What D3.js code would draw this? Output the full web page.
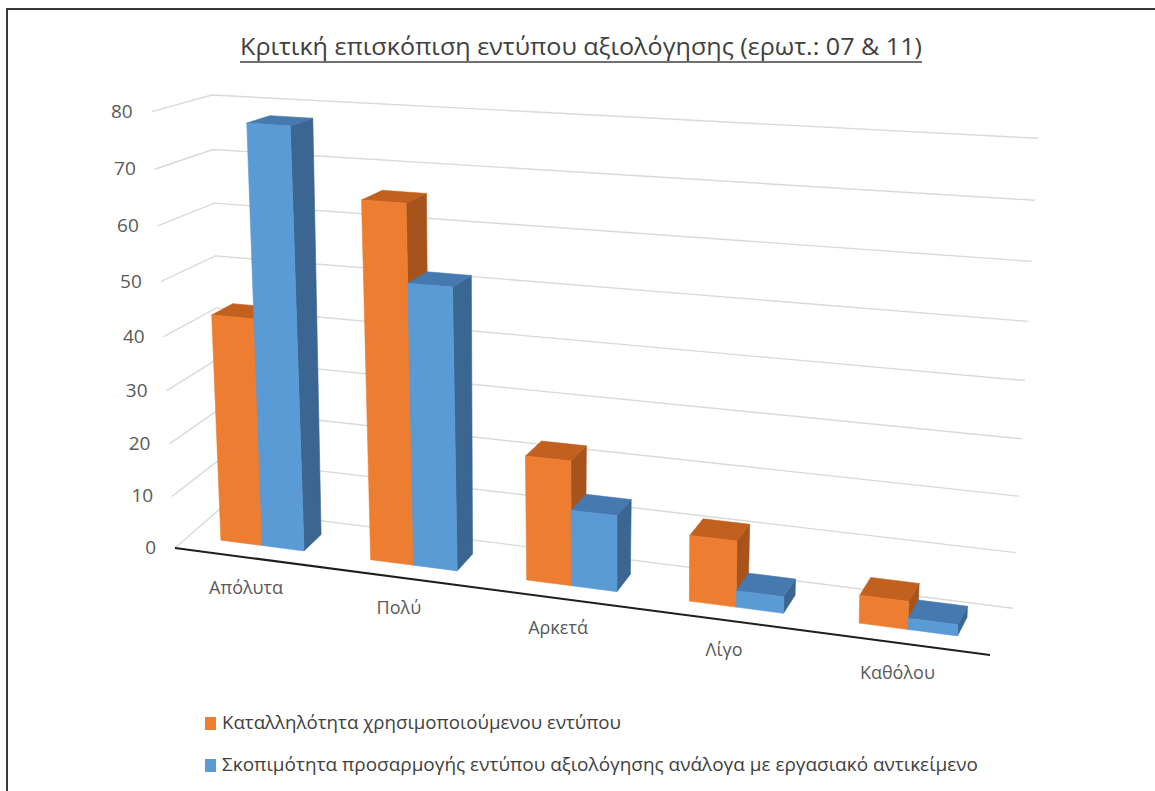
<!DOCTYPE html>
<html lang="el">
<head>
<meta charset="utf-8">
<script src="https://cdn.jsdelivr.net/npm/d3@7"></script>
<style>
  html, body { margin: 0; padding: 0; background: #fff; }
  svg { display: block; }
</style>
</head>
<body>
<svg id="chart" width="1155" height="791"></svg>
<script>
// ---- data ----
const categories = ["Απόλυτα", "Πολύ", "Αρκετά", "Λίγο", "Καθόλου"];
const seriesNames = [
  "Καταλληλότητα χρησιμοποιούμενου εντύπου",
  "Σκοπιμότητα προσαρμογής εντύπου αξιολόγησης ανάλογα με εργασιακό αντικείμενο"
];
const suitability = [43, 66, 23, 12, 5];
const adaptation = [78, 52, 14, 3, 2];
const yTicks = [0, 10, 20, 30, 40, 50, 60, 70, 80];
const titleText = "Κριτική επισκόπιση εντύπου αξιολόγησης (ερωτ.: 07 & 11)";

// ---- layout: screen corners of the plot box (X across, Y up, Z into the page) ----
const boxCorners = {
  "000": [175, 548],   "010": [151.7, 111.7],
  "001": [221, 508],   "011": [211.7, 95],
  "100": [990, 655],   "110": [1001.6, 170],
  "101": [1012.7, 608.3], "111": [1038.3, 138.3]
};
// foreshortening along the category and value directions
const depthX = 0.9, depthY = 0.94;
const barDepth = [0.3, 0.7];

const colors = {
  orange: { front: "#ED7D31", top: "#C2601F", side: "#A7531B" },
  blue:   { front: "#5B9BD5", top: "#4679AF", side: "#3B6692" }
};
const fontFamily = "'Open Sans', 'Noto Sans', 'DejaVu Sans', sans-serif";

// ---- projection of a point of the unit box onto the page ----
const warp = (t, k) => t * k / (1 + (k - 1) * t);
function project([X, Y, Z]) {
  const u = warp(X, depthX), v = warp(Y, depthY), w = Z;
  let px = 0, py = 0;
  for (const key in boxCorners) {
    const [a, b, c] = key.split("").map(Number);
    const wt = (a ? u : 1 - u) * (b ? v : 1 - v) * (c ? w : 1 - w);
    px += wt * boxCorners[key][0];
    py += wt * boxCorners[key][1];
  }
  return [px, py];
}

// ---- scales ----
const x = d3.scaleBand().domain(categories).range([0, 1]).paddingInner(0.44).paddingOuter(0.22);
const xs = d3.scaleBand().domain([0, 1]).range([0, x.bandwidth()]);
const y = d3.scaleLinear().domain([0, 80]).range([0, 1]);

const svg = d3.select("#chart");
const line = d3.line();

// chart border
svg.append("rect")
  .attr("x", 7).attr("y", 9).attr("width", 1300).attr("height", 900)
  .attr("fill", "#fff").attr("stroke", "#3a3a3a").attr("stroke-width", 2);

// title
svg.append("text")
  .attr("x", 581).attr("y", 55)
  .attr("text-anchor", "middle")
  .attr("font-family", fontFamily).attr("font-size", 23)
  .attr("fill", "#404040")
  .attr("textLength", 682).attr("lengthAdjust", "spacingAndGlyphs")
  .text(titleText);
svg.append("line")
  .attr("x1", 581 - 341).attr("x2", 581 + 341)
  .attr("y1", 62).attr("y2", 62)
  .attr("stroke", "#404040").attr("stroke-width", 1.3);

// gridlines on the side and back walls
const grid = svg.append("g");
yTicks.forEach(t => {
  const pts = [[0, y(t), 0], [0, y(t), 1], [1, y(t), 1]].map(project);
  grid.append("path").attr("d", line(pts))
    .attr("fill", "none").attr("stroke", "#d9d9d9").attr("stroke-width", 1.4);
});

// value labels
const ylab = svg.append("g");
yTicks.forEach(t => {
  const [px, py] = project([0, y(t), 0]);
  ylab.append("text")
    .attr("x", px - 19).attr("y", py + 1)
    .attr("text-anchor", "end").attr("dominant-baseline", "middle")
    .attr("font-family", fontFamily).attr("font-size", 19)
    .attr("fill", "#595959")
    .text(t);
});

// category axis line along the front of the floor
svg.append("path")
  .attr("d", line([[0, 0, 0], [1, 0, 0]].map(project)))
  .attr("stroke", "#1e1e1e").attr("stroke-width", 2).attr("fill", "none");

// bars: drawn left to right so each bar covers its neighbour's hidden side
const series = [
  { values: suitability, pal: colors.orange },
  { values: adaptation, pal: colors.blue }
];
const bars = svg.append("g");
categories.forEach((c, ci) => {
  series.forEach((s, si) => {
    const x0 = x(c) + xs(si), x1 = x0 + xs.bandwidth();
    const h = y(s.values[ci]);
    const [z0, z1] = barDepth;
    const faces = [
      { pts: [[x1, 0, z0], [x1, 0, z1], [x1, h, z1], [x1, h, z0]], fill: s.pal.side },
      { pts: [[x0, h, z0], [x1, h, z0], [x1, h, z1], [x0, h, z1]], fill: s.pal.top },
      { pts: [[x0, 0, z0], [x1, 0, z0], [x1, h, z0], [x0, h, z0]], fill: s.pal.front }
    ];
    faces.forEach(f => {
      bars.append("path")
        .attr("d", line(f.pts.map(project)) + "Z")
        .attr("fill", f.fill)
        .attr("stroke", f.fill).attr("stroke-width", 0.6).attr("stroke-linejoin", "round");
    });
  });
});

// category labels
categories.forEach(c => {
  const [px, py] = project([x(c) + x.bandwidth() / 2, 0, 0]);
  svg.append("text")
    .attr("x", px - 3).attr("y", py + 31)
    .attr("text-anchor", "middle").attr("dominant-baseline", "middle")
    .attr("font-family", fontFamily).attr("font-size", 18)
    .attr("fill", "#595959")
    .text(c);
});

// legend
const legend = svg.append("g");
const legendRows = [
  { name: seriesNames[0], color: colors.orange.front, y: 724, len: 399 },
  { name: seriesNames[1], color: colors.blue.front, y: 766, len: 756 }
];
legendRows.forEach(r => {
  legend.append("rect")
    .attr("x", 205).attr("y", r.y - 7).attr("width", 11).attr("height", 13)
    .attr("fill", r.color);
  legend.append("text")
    .attr("x", 222).attr("y", r.y)
    .attr("dominant-baseline", "middle")
    .attr("font-family", fontFamily).attr("font-size", 19)
    .attr("fill", "#404040")
    .attr("textLength", r.len).attr("lengthAdjust", "spacingAndGlyphs")
    .text(r.name);
});
</script>
</body>
</html>
